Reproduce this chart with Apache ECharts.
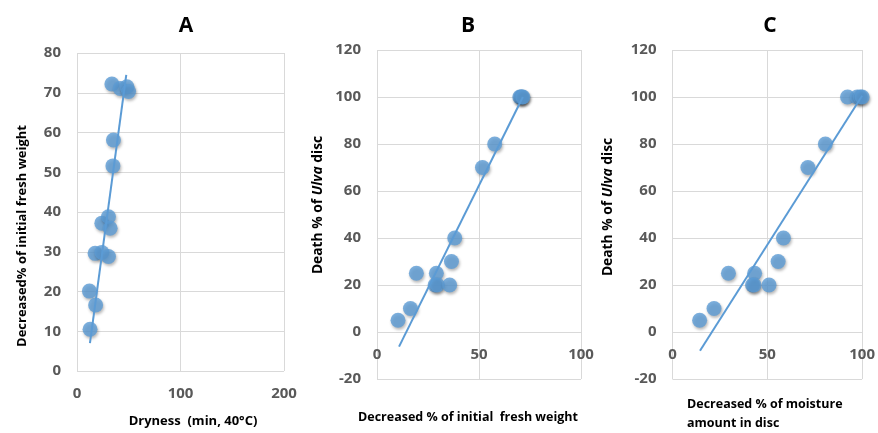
<!DOCTYPE html>
<html>
<head>
<meta charset="utf-8">
<script src="https://cdn.jsdelivr.net/npm/echarts@6/dist/echarts.min.js"></script>
<style>
html,body{margin:0;padding:0;background:#fff;}
#chart{width:878px;height:433px;}
</style>
</head>
<body>
<div id="chart"></div>
<script>
// Panel A: dryness (min) vs decreased % of initial fresh weight
var dryA    = [12.6, 12, 18, 17.5, 24, 30.4, 24, 30.4, 32, 34.7, 35.2, 33.7, 41.7, 48.2, 49.8];
var weightA = [10.5, 20.1, 16.6, 29.6, 29.8, 28.8, 37.2, 38.8, 35.9, 51.6, 58.1, 72.2, 71.1, 71.5, 70.3];
var trendAx = [12.5, 47.6];
var trendAy = [7, 74.5];

// Panel B: decreased % of initial fresh weight vs death % of Ulva disc
var weightB = [10.3, 16.4, 19.3, 29.1, 28.5, 29.6, 35.6, 36.5, 38.1, 51.7, 57.7, 70, 70.6, 71, 71.5];
var deathB  = [5, 10, 25, 25, 20, 20, 20, 30, 40, 70, 80, 100, 100, 100, 100];
var trendBx = [10.8, 71.5];
var trendBy = [-6.2, 100];

// Panel C: decreased % of moisture amount in disc vs death % of Ulva disc
var moistC = [14.3, 21.9, 29.5, 43.3, 42.2, 43, 50.9, 55.7, 58.5, 71.4, 80.6, 92.3, 97.4, 99, 100];
var deathC = [5, 10, 25, 25, 20, 20, 20, 30, 40, 70, 80, 100, 100, 100, 100];
var trendCx = [14.5, 100];
var trendCy = [-8, 100.5];

// Axis ticks
var ticksAx = {min: 0, max: 200, interval: 100};
var ticksAy = {min: 0, max: 80, interval: 10};
var ticksBx = {min: 0, max: 100, interval: 50};
var ticksBy = {min: -20, max: 120, interval: 20};

function pairs(xs, ys){ return xs.map(function(x,i){ return [x, ys[i]]; }); }

var FONT = '"Open Sans", "Liberation Sans", sans-serif';
var BLUE = '#5b9bd5';
var GRID = '#d9d9d9';
var LABEL = '#595959';

function xAxisDef(idx, t, off){
  return {
    type: 'value', gridIndex: idx, min: t.min, max: t.max, interval: t.interval,
    offset: off,
    axisLine: {show: false, onZero: false},
    axisTick: {show: false},
    splitLine: {show: true, lineStyle: {color: GRID, width: 1}},
    axisLabel: {color: LABEL, fontFamily: FONT, fontWeight: 'bold', fontSize: 15, margin: 15}
  };
}
function yAxisDef(idx, t){
  return {
    type: 'value', gridIndex: idx, min: t.min, max: t.max, interval: t.interval,
    axisLine: {show: false, onZero: false},
    axisTick: {show: false},
    splitLine: {show: true, lineStyle: {color: GRID, width: 1}},
    axisLabel: {color: LABEL, fontFamily: FONT, fontWeight: 'bold', fontSize: 15, margin: 16}
  };
}
function scatter(idx, data){
  return {
    type: 'scatter', xAxisIndex: idx, yAxisIndex: idx, data: data, symbolSize: 15, clip: false,
    itemStyle: {color: BLUE, shadowBlur: 3, shadowColor: 'rgba(0,0,0,0.35)', shadowOffsetX: 1, shadowOffsetY: 2},
    z: 2
  };
}
function trend(idx, data){
  return {
    type: 'line', xAxisIndex: idx, yAxisIndex: idx, data: data, symbol: 'none', clip: false,
    lineStyle: {color: BLUE, width: 2}, z: 3, silent: true
  };
}

var chart = echarts.init(document.getElementById('chart'), null, {renderer: 'canvas'});
var titleStyle = {fontFamily: FONT, fontWeight: 'bold', fontSize: 21, fill: '#000'};
var axTitle = {fontFamily: FONT, fontWeight: 'bold', fontSize: 13, fill: '#000'};
var axTitleB = {fontFamily: FONT, fontWeight: 'bold', fontSize: 13.8, fill: '#000'};

chart.setOption({
  animation: false,
  backgroundColor: '#fff',
  grid: [
    {left: 77, top: 53, width: 207, height: 318},
    {left: 377, top: 50, width: 204, height: 329},
    {left: 672.5, top: 50, width: 200, height: 329}
  ],
  xAxis: [xAxisDef(0, ticksAx, 0), xAxisDef(1, ticksBx, -47), xAxisDef(2, ticksBx, -47)],
  yAxis: [yAxisDef(0, ticksAy), yAxisDef(1, ticksBy), yAxisDef(2, ticksBy)],
  series: [
    scatter(0, pairs(dryA, weightA)), trend(0, pairs(trendAx, trendAy)),
    scatter(1, pairs(weightB, deathB)), trend(1, pairs(trendBx, trendBy)),
    scatter(2, pairs(moistC, deathC)), trend(2, pairs(trendCx, trendCy))
  ],
  graphic: [
    {type: 'text', x: 186, y: 26, style: Object.assign({text: 'A', textAlign: 'center', textVerticalAlign: 'middle'}, titleStyle)},
    {type: 'text', x: 468, y: 26, style: Object.assign({text: 'B', textAlign: 'center', textVerticalAlign: 'middle'}, titleStyle)},
    {type: 'text', x: 770, y: 26, style: Object.assign({text: 'C', textAlign: 'center', textVerticalAlign: 'middle'}, titleStyle)},
    {type: 'text', x: 22, y: 236, rotation: Math.PI/2,
      style: Object.assign({text: 'Decreased% of initial fresh weight', textAlign: 'center', textVerticalAlign: 'middle'}, axTitle)},
    {type: 'text', x: 318, y: 205, rotation: Math.PI/2,
      style: {text: '{b|Death % of }{i|Ulva}{b| disc}', textAlign: 'center', textVerticalAlign: 'middle',
        rich: {b: axTitleB, i: Object.assign({fontStyle: 'italic'}, axTitleB)}}},
    {type: 'text', x: 608, y: 207, rotation: Math.PI/2,
      style: {text: '{b|Death % of }{i|Ulva}{b| disc}', textAlign: 'center', textVerticalAlign: 'middle',
        rich: {b: axTitleB, i: Object.assign({fontStyle: 'italic'}, axTitleB)}}},
    {type: 'text', x: 193, y: 421,
      style: Object.assign({text: 'Dryness  (min, 40\u00B0C)', textAlign: 'center', textVerticalAlign: 'middle'}, axTitle, {fontSize: 13})},
    {type: 'text', x: 468, y: 417,
      style: Object.assign({text: 'Decreased % of initial  fresh weight', textAlign: 'center', textVerticalAlign: 'middle'}, axTitle, {fontSize: 12.5})},
    {type: 'text', x: 687, y: 414,
      style: Object.assign({text: 'Decreased % of moisture\namount in disc', textAlign: 'left', textVerticalAlign: 'middle', lineHeight: 19}, axTitle, {fontSize: 12.5})}
  ]
});
</script>
</body>
</html>
